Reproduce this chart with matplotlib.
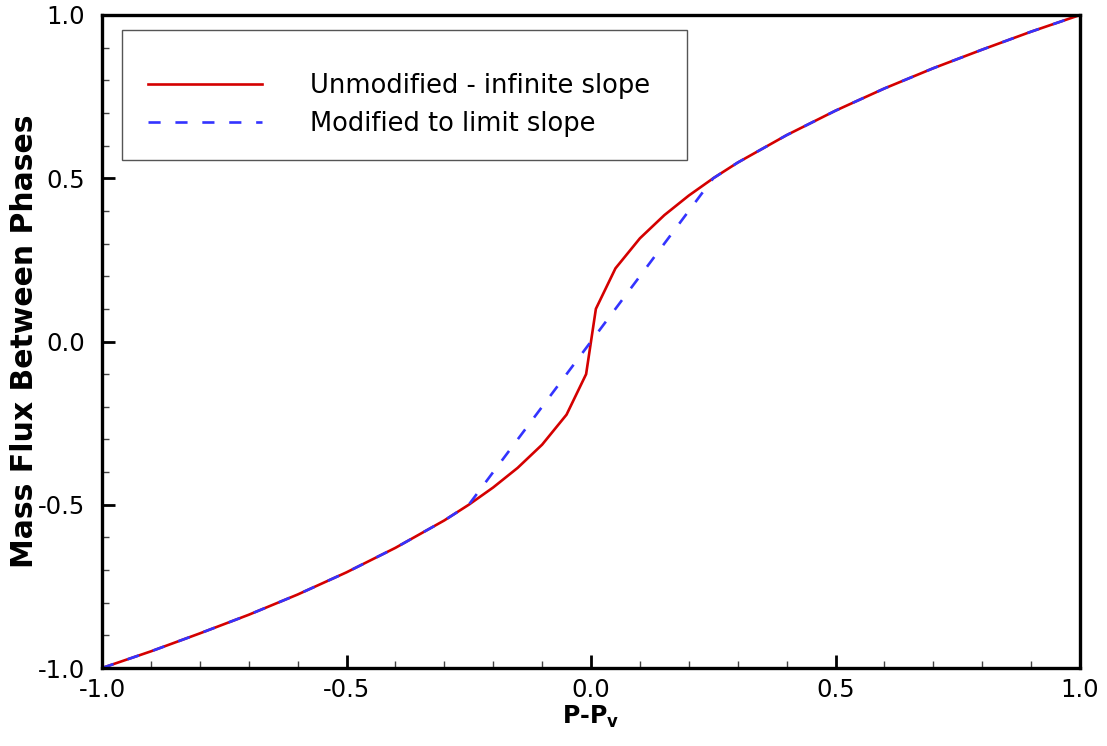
import numpy as np
import matplotlib.pyplot as plt
from matplotlib.ticker import MultipleLocator
from matplotlib.patches import Rectangle

plt.rcParams['font.family'] = ['DejaVu Sans']
plt.rcParams['mathtext.fontset'] = 'dejavusans'

# Unmodified curve (infinite slope at the origin)
x_unmod = [-1.0, -0.9, -0.8, -0.7, -0.6, -0.5, -0.4, -0.3, -0.25, -0.2, -0.15, -0.1,
           -0.05, -0.01, 0.0, 0.01, 0.05, 0.1, 0.15, 0.2, 0.25, 0.3, 0.4, 0.5,
           0.6, 0.7, 0.8, 0.9, 1.0]
y_unmod = [-1.0, -0.949, -0.894, -0.837, -0.775, -0.707, -0.632, -0.548, -0.5, -0.447, -0.387, -0.316,
           -0.224, -0.1, 0.0, 0.1, 0.224, 0.316, 0.387, 0.447, 0.5, 0.548, 0.632, 0.707,
           0.775, 0.837, 0.894, 0.949, 1.0]

# Modified curve (straight segment between -0.25 and 0.25)
x_mod = [-1.0, -0.9, -0.8, -0.7, -0.6, -0.5, -0.4, -0.3, -0.25, 0.25, 0.3, 0.4, 0.5,
         0.6, 0.7, 0.8, 0.9, 1.0]
y_mod = [-1.0, -0.949, -0.894, -0.837, -0.775, -0.707, -0.632, -0.548, -0.5, 0.5, 0.548, 0.632, 0.707,
         0.775, 0.837, 0.894, 0.949, 1.0]

fig = plt.figure(figsize=(11.07, 7.46), dpi=100)
ax = fig.add_axes([102/1107, 1 - 668/746, (1080 - 102)/1107, (668 - 15)/746])

ax.plot(x_unmod, y_unmod, color='#d40000', lw=1.9, label='Unmodified - infinite slope')
ax.plot(x_mod, y_mod, color='#3333ff', lw=1.9, dashes=(4.6, 5.6), label='Modified to limit slope')

ax.set_xlim(-1, 1)
ax.set_ylim(-1, 1)
ax.xaxis.set_major_locator(MultipleLocator(0.5))
ax.xaxis.set_minor_locator(MultipleLocator(0.1))
ax.yaxis.set_major_locator(MultipleLocator(0.5))
ax.yaxis.set_minor_locator(MultipleLocator(0.1))
ax.xaxis.set_major_formatter(lambda v, p: f'{v:.1f}')
ax.yaxis.set_major_formatter(lambda v, p: f'{v:.1f}')

ax.tick_params(which='both', direction='in', top=False, right=False, labelsize=17.5)
ax.tick_params(which='major', length=9.5, width=2.0)
ax.tick_params(which='minor', length=5, width=1.0, color='#444444')
ax.tick_params(axis='x', which='major', pad=7)
ax.tick_params(axis='y', which='major', pad=12)
for s in ax.spines.values():
    s.set_linewidth(2.4)

ax.set_xlabel('P-P$_\\mathbf{v}$', fontsize=17, fontweight='bold')
ax.xaxis.set_label_coords(0.5, -0.055)
ax.set_ylabel('Mass Flux Between Phases', fontsize=21.5, fontweight='bold')
ax.yaxis.set_label_coords(-0.064, 0.5)

# legend box (Tecplot style frame drawn separately)
ax.add_patch(Rectangle((20/978, 1 - 145/653), 565/978, 130/653, transform=ax.transAxes,
                       fill=False, edgecolor='#555555', lw=1.0, zorder=4))
leg = ax.legend(loc='upper left', bbox_to_anchor=(46/978, 1 - 58/653), fontsize=18.5,
                frameon=False, handlelength=4.45, handletextpad=1.85, borderpad=0,
                labelspacing=0.46, borderaxespad=0)

fig.savefig('out.png', dpi=100)
